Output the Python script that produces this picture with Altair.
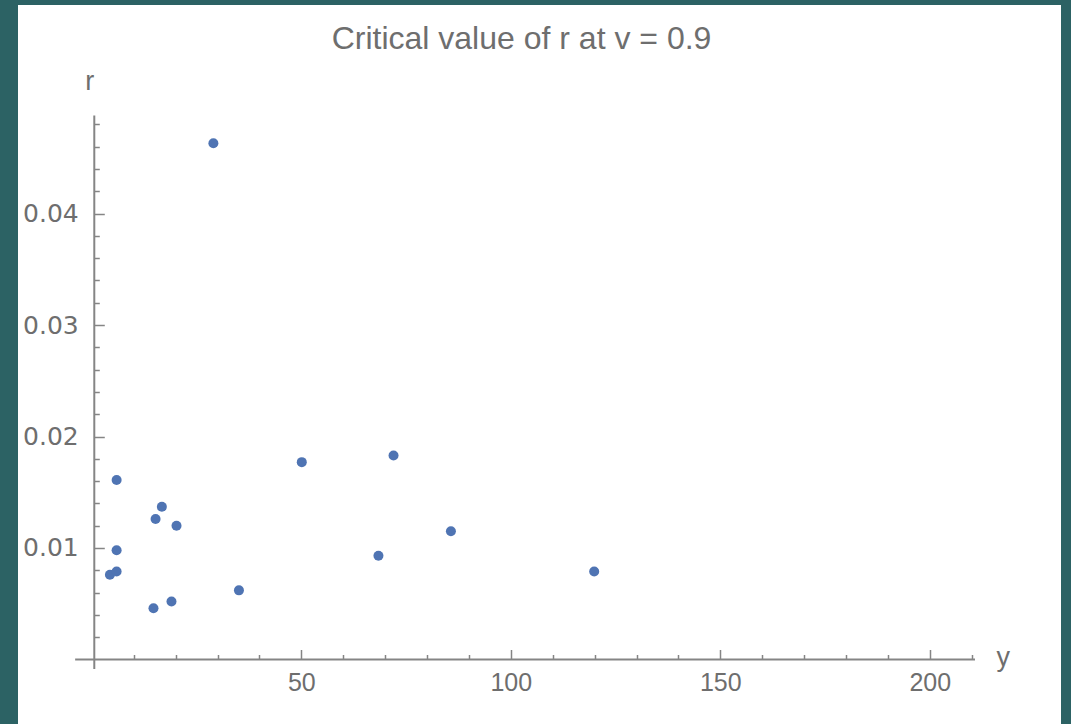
import altair as alt
import pandas as pd

# Sample size (y) and the critical value of r found at v = 0.9
y_values = [4.3, 5.9, 5.9, 5.9, 14.7, 15.2, 16.7, 19.0, 20.2, 29.0, 35.1, 50.1, 68.4, 72.0, 85.7, 119.9]
r_values = [0.0076, 0.0079, 0.0098, 0.0161, 0.0046, 0.0126, 0.0137, 0.0052, 0.0120, 0.0463,
            0.0062, 0.0177, 0.0093, 0.0183, 0.0115, 0.0079]

# Tick marks: labelled majors and every minor position
y_tick_labels = [50, 100, 150, 200]
y_ticks = [10, 20, 30, 40, 50, 60, 70, 80, 90, 100, 110, 120, 130, 140, 150, 160, 170, 180, 190, 200, 210]
r_tick_labels = [0.01, 0.02, 0.03, 0.04]
r_ticks = [0.002, 0.004, 0.006, 0.008, 0.010, 0.012, 0.014, 0.016, 0.018, 0.020, 0.022, 0.024,
           0.026, 0.028, 0.030, 0.032, 0.034, 0.036, 0.038, 0.040, 0.042, 0.044, 0.046, 0.048]

# Plot frame (the white panel) and the extent of the two crossing axes
W, H = 1043, 719
Y_DOMAIN = [-17.64, 231.33]
R_DOMAIN = [-0.005785, 0.0587]
Y_AXIS_SPAN = [-4.0, 210.8]
R_AXIS_SPAN = [-0.00085, 0.0488]
ORIGIN_Y = 0.57  # where the vertical axis crosses

GREY = "#6e6e6e"
AXIS_GREY = "#858585"
DOT = "#4f74b3"


def px_x(v):
    return (v - Y_DOMAIN[0]) / (Y_DOMAIN[1] - Y_DOMAIN[0]) * W


def px_y(v):
    return H - (v - R_DOMAIN[0]) / (R_DOMAIN[1] - R_DOMAIN[0]) * H


x_origin_px = px_x(ORIGIN_Y)
y_origin_px = px_y(0)

xscale = alt.Scale(domain=Y_DOMAIN, nice=False, zero=False)
yscale = alt.Scale(domain=R_DOMAIN, nice=False, zero=False)

df = pd.DataFrame({"y": y_values, "r": r_values})

axes_df = pd.DataFrame({
    "ax": [Y_AXIS_SPAN[0], ORIGIN_Y],
    "ax2": [Y_AXIS_SPAN[1], ORIGIN_Y],
    "ar": [0.0, R_AXIS_SPAN[0]],
    "ar2": [0.0, R_AXIS_SPAN[1]],
})

# Axis lines plus inward-pointing ticks (major ticks longer)
axis_lines = alt.Chart(axes_df).mark_rule(color=AXIS_GREY, strokeWidth=2).encode(
    x=alt.X("ax:Q", scale=xscale, axis=alt.Axis(
        orient="top", offset=-y_origin_px, values=y_ticks, labels=False, domain=False,
        grid=False, title="", tickColor=AXIS_GREY, tickWidth=1.5,
        tickSize={"condition": {"test": "datum.value % 50 === 0", "value": 10}, "value": 5})),
    x2="ax2:Q",
    y=alt.Y("ar:Q", scale=yscale, axis=alt.Axis(
        orient="right", offset=-(W - x_origin_px), values=r_ticks, labels=False, domain=False,
        grid=False, title="", tickColor=AXIS_GREY, tickWidth=1.5,
        tickSize={"condition": {"test": "abs(datum.value * 100 - round(datum.value * 100)) < 0.001",
                                "value": 10}, "value": 5})),
    y2="ar2:Q",
)

# Data points with the tick labels and axis names
points = alt.Chart(df).mark_circle(size=100, color=DOT, opacity=1).encode(
    x=alt.X("y:Q", scale=xscale, axis=alt.Axis(
        orient="bottom", offset=-(H - y_origin_px), values=y_tick_labels, ticks=False,
        domain=False, grid=False, format="d", labelFont="Liberation Sans", labelFontSize=25,
        labelColor=GREY, labelPadding=11, labelOverlap=False, labelFlush=False,
        title="y", titleAngle=0, titleX=px_x(211) + 27, titleY=6, titleAlign="center",
        titleBaseline="alphabetic", titleFont="Liberation Sans", titleFontSize=27,
        titleFontWeight="normal", titleColor=GREY)),
    y=alt.Y("r:Q", scale=yscale, axis=alt.Axis(
        orient="left", offset=-x_origin_px, values=r_tick_labels, ticks=False,
        domain=False, grid=False, format=".2f", labelFont="DejaVu Sans", labelFontSize=25,
        labelColor=GREY, labelPadding=16, labelOverlap=False, labelFlush=False,
        title="r", titleAngle=0, titleX=-5, titleY=84, titleAlign="center",
        titleBaseline="alphabetic", titleFont="Liberation Sans", titleFontSize=27,
        titleFontWeight="normal", titleColor=GREY)),
)

chart = alt.layer(axis_lines, points).resolve_scale(
    x="independent", y="independent"
).properties(
    width=W,
    height=H,
    title=alt.TitleParams(
        text="Critical value of r at v = 0.9", anchor="middle", frame="group",
        offset=-76, baseline="alphabetic", font="Liberation Sans", fontSize=32,
        fontWeight="normal", color=GREY, dx=-18),
    background="#2c6264",
    padding={"left": 18, "top": 5, "right": 10, "bottom": 0},
    autosize=alt.AutoSizeParams(type="none"),
).configure_view(fill="white", strokeWidth=0)

chart.save("out.html", embed_options={"renderer": "svg", "actions": False})
